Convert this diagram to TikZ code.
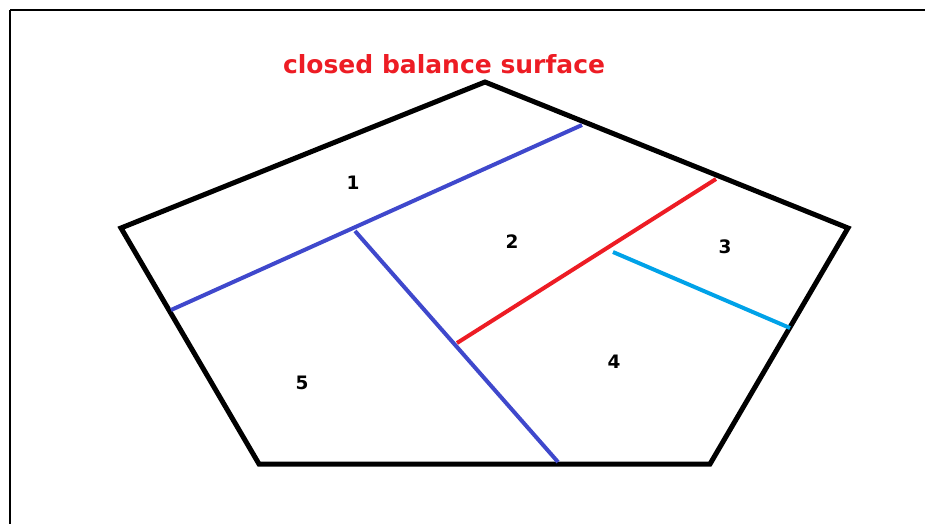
\documentclass[tikz,border=0pt]{standalone}
\usepackage{fontspec}
\setmainfont{DejaVu Sans}
\definecolor{pred}{RGB}{237,28,36}
\definecolor{pindigo}{RGB}{63,72,204}
\definecolor{pcyan}{RGB}{0,162,232}
\begin{document}
\begin{tikzpicture}[x=1pt,y=-1pt,
  outline/.style={line width=5pt,line join=miter},
  cut/.style={line width=4pt},
  lab/.style={font=\bfseries\fontsize{18.5}{19}\selectfont,text=black},
  ttl/.style={font=\bfseries\fontsize{25}{26}\selectfont,text=pred}]
\useasboundingbox (0,0) rectangle (925,523);
\draw[line width=2pt] (10,10) -- (940,10);
\draw[line width=1.5pt] (10,10) -- (10,540);
\coordinate (T) at (485,82);
\coordinate (R) at (848,228);
\coordinate (BR) at (710,464);
\coordinate (BL) at (259,464);
\coordinate (L) at (121,228);
\draw[outline] (T) -- (R) -- (BR) -- (BL) -- (L) -- cycle;
\coordinate (a1) at (171,310); \coordinate (a2) at (582,125);
\coordinate (b1) at (355,231); \coordinate (b2) at (558,462);
\coordinate (c1) at (457,343); \coordinate (c2) at (716,179);
\coordinate (d1) at (613,252); \coordinate (d2) at (790,328);
\draw[cut,pindigo] (a1) -- (a2);
\draw[cut,pindigo] (b1) -- (b2);
\draw[cut,pred] (c1) -- (c2);
\draw[cut,pcyan] (d1) -- (d2);
\node[lab] (n1) at (353,183) {1};
\node[lab] (n2) at (512,242) {2};
\node[lab] (n3) at (725,247) {3};
\node[lab] (n4) at (614,362) {4};
\node[lab] (n5) at (302,383) {5};
\node[ttl] (title) at (444,64) {closed balance surface};
\end{tikzpicture}
\end{document}
